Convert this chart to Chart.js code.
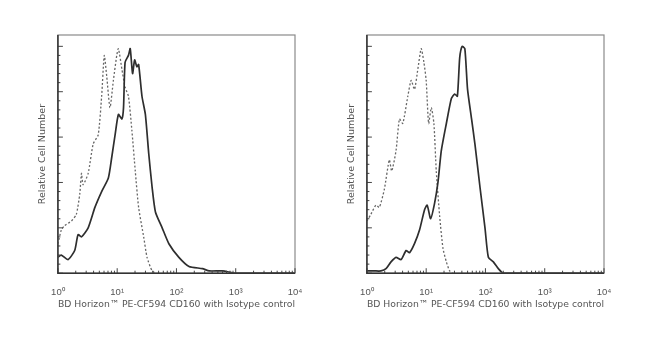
<!DOCTYPE html>
<html>
<head>
<meta charset="utf-8">
<script src="https://cdn.jsdelivr.net/npm/chart.js@4"></script>
<style>
  body { margin: 0; background: #fff; }
  .wrap { position: absolute; top: 0; width: 325px; height: 345px; }
</style>
</head>
<body>
<div class="wrap" style="left:0"><canvas id="left"></canvas></div>
<div class="wrap" style="left:309px"><canvas id="right"></canvas></div>
<script>
// fluorescence intensity (x) and relative cell number (y)
const leftStainX = [1, 1.14, 1.48, 1.92, 2.19, 2.5, 3.24, 4.21, 5.47, 7.1, 8.09, 9.22, 10.5, 12, 12.8, 13.6, 15.5, 16.6, 18.2, 19.7, 21.5, 23, 26.2, 29.9, 34, 38.8, 44.2, 57.4, 74.5, 110, 163, 275, 357, 603, 1016, 10000];
const leftStainY = [7, 8, 6, 10, 17, 16, 20, 29, 36, 42, 51, 61, 70, 68, 73, 93, 96, 99, 88, 94, 91, 92, 78, 70, 53, 38, 27, 20, 13, 7, 3, 2, 1, 1, 0, 0];
const leftIsoX = [1, 1.14, 1.3, 1.69, 2.05, 2.34, 2.5, 2.66, 3.24, 3.94, 4.79, 5.47, 6.06, 6.65, 7.56, 8.63, 9.84, 10.5, 12, 13.6, 15.5, 17.7, 20.2, 23, 28, 31.9, 38.8, 44.2];
const leftIsoY = [13, 19, 21, 23, 26, 35, 44, 39, 44, 57, 61, 78, 96, 87, 73, 85, 96, 99, 90, 82, 78, 63, 45, 29, 16, 7, 1, 0];

const rightStainX = [1, 1.33, 1.73, 2.1, 2.55, 3.1, 3.77, 4.59, 5.23, 6.35, 7.72, 9.39, 10.4, 11.9, 13.9, 15.8, 18, 21.9, 26.6, 30.3, 33.6, 36.8, 40.4, 44.9, 49.9, 58.3, 66.4, 80.8, 98.2, 112, 136, 165, 200, 10000];
const rightStainY = [1, 1, 1, 2, 5, 7, 6, 10, 9, 13, 19, 28, 30, 24, 31, 40, 54, 66, 77, 79, 78, 95, 100, 99, 81, 68, 57, 38, 20, 7, 5, 2, 0, 0];
const rightIsoX = [1, 1.17, 1.42, 1.62, 1.97, 2.39, 2.62, 3.1, 3.54, 4.03, 4.9, 5.58, 6.35, 7.24, 8.24, 9.15, 10, 11, 12.2, 13.5, 14.8, 16.9, 19.2, 21.9, 24.9, 28.4];
const rightIsoY = [23, 26, 30, 29, 37, 50, 45, 54, 68, 66, 78, 85, 81, 90, 99, 93, 85, 66, 73, 66, 45, 25, 11, 5, 1, 0];

const decadeTicks = [1, 10, 100, 1000, 10000];
const decadeLabels = ['10\u2070', '10\u00b9', '10\u00b2', '10\u00b3', '10\u2074'];
const yTicks = [0, 20, 40, 60, 80, 100];
const xTitle = 'BD Horizon\u2122 PE-CF594 CD160 with Isotype control';
const yTitle = 'Relative Cell Number';

function points(xs, ys) {
    return xs.map((x, i) => ({ x: x, y: ys[i] }));
}

// frame on top/right plus inward tick marks, placed through the chart scales
const framePlugin = {
    id: 'frame',
    afterDatasetsDraw(chart) {
        const { ctx, chartArea: a, scales } = chart;
        ctx.save();
        ctx.strokeStyle = '#8a8a8a';
        ctx.lineWidth = 1.2;
        ctx.strokeRect(a.left, a.top, a.right - a.left, a.bottom - a.top);
        ctx.strokeStyle = '#444';
        ctx.lineWidth = 1;
        ctx.beginPath();
        for (let d = 1; d <= 10000; d *= 10) {
            const px = scales.x.getPixelForValue(d);
            ctx.moveTo(px, a.bottom);
            ctx.lineTo(px, a.bottom - 5);
            if (d < 10000) {
                for (let k = 2; k < 10; k++) {
                    const mx = scales.x.getPixelForValue(d * k);
                    ctx.moveTo(mx, a.bottom);
                    ctx.lineTo(mx, a.bottom - 2.5);
                }
            }
        }
        for (let v = 0; v <= 100; v += 4) {
            const py = scales.y.getPixelForValue(v);
            ctx.moveTo(a.left, py);
            ctx.lineTo(a.left + (v % 20 === 0 ? 5 : 2.5), py);
        }
        ctx.stroke();
        ctx.strokeStyle = '#333';
        ctx.lineWidth = 1.5;
        ctx.beginPath();
        ctx.moveTo(a.left, a.top);
        ctx.lineTo(a.left, a.bottom);
        ctx.lineTo(a.right, a.bottom);
        ctx.stroke();
        ctx.restore();
    }
};

function makeHistogram(id, stain, iso) {
    new Chart(document.getElementById(id), {
        type: 'line',
        data: {
            datasets: [{
                label: 'CD160',
                data: stain,
                borderColor: '#2e2e2e',
                borderWidth: 1.7,
                pointRadius: 0,
                tension: 0.2,
                fill: false
            }, {
                label: 'Isotype control',
                data: iso,
                borderColor: '#666',
                borderWidth: 1.3,
                borderDash: [2, 2],
                pointRadius: 0,
                tension: 0.2,
                fill: false
            }]
        },
        options: {
            responsive: true,
            maintainAspectRatio: false,
            animation: false,
            layout: { padding: { top: 35, right: 30, bottom: 35, left: 32 } },
            plugins: { legend: { display: false }, tooltip: { enabled: false } },
            scales: {
                x: {
                    type: 'logarithmic',
                    min: 1,
                    max: 10000,
                    afterBuildTicks: (axis) => { axis.ticks = decadeTicks.map(v => ({ value: v })); },
                    grid: { display: false, drawTicks: false },
                    border: { display: false },
                    ticks: {
                        autoSkip: false,
                        maxRotation: 0,
                        padding: 13,
                        color: '#555',
                        font: { family: 'Arial', size: 9.5 },
                        callback: (v) => decadeLabels[decadeTicks.indexOf(v)]
                    },
                    title: {
                        display: true,
                        text: xTitle,
                        color: '#555',
                        font: { family: 'DejaVu Sans', size: 9.5 },
                        padding: { top: -12, bottom: 0 }
                    }
                },
                y: {
                    min: 0,
                    max: 105,
                    afterBuildTicks: (axis) => { axis.ticks = yTicks.map(v => ({ value: v })); },
                    grid: { display: false, drawTicks: false },
                    border: { display: false },
                    ticks: { display: false },
                    title: {
                        display: true,
                        text: yTitle,
                        color: '#555',
                        font: { family: 'DejaVu Sans', size: 9.5 },
                        padding: { top: 4.5, bottom: 10 }
                    }
                }
            }
        },
        plugins: [framePlugin]
    });
}

makeHistogram('left', points(leftStainX, leftStainY), points(leftIsoX, leftIsoY));
makeHistogram('right', points(rightStainX, rightStainY), points(rightIsoX, rightIsoY));
</script>
</body>
</html>
